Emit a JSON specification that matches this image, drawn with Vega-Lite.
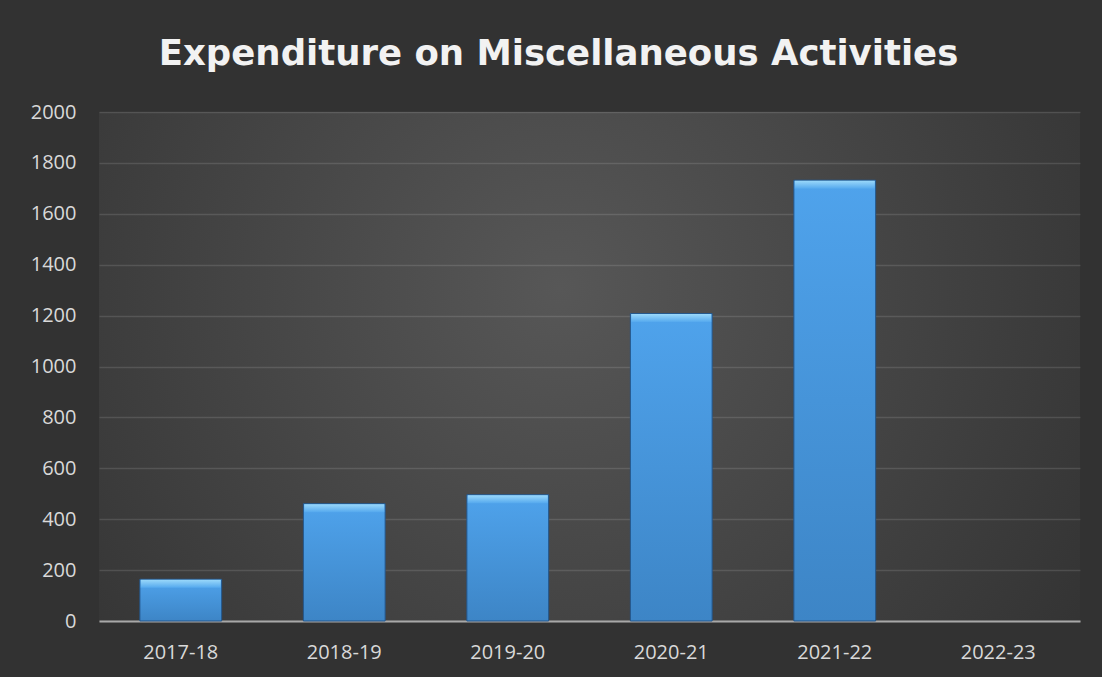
{
  "$schema": "https://vega.github.io/schema/vega-lite/v6.json",
  "width": 981,
  "height": 509,
  "autosize": {"type": "none"},
  "padding": {"left": 99, "top": 112, "right": 22, "bottom": 56},
  "background": "#323232",
  "title": {
    "text": "Expenditure on Miscellaneous Activities",
    "anchor": "middle",
    "frame": "group",
    "dx": -31,
    "offset": 2,
    "baseline": "alphabetic",
    "font": "DejaVu Sans",
    "fontSize": 35.5,
    "fontWeight": "bold",
    "color": "#f2f2f2"
  },
  "config": {
    "view": {
      "stroke": null,
      "fill": {
        "gradient": "radial",
        "x1": 0.47, "y1": 0.42, "r1": 0,
        "x2": 0.47, "y2": 0.42, "r2": 0.66,
        "stops": [
          {"offset": 0, "color": "#575757"},
          {"offset": 1, "color": "#323232"}
        ]
      }
    }
  },
  "data": {
    "values": [
      {"year": "2017-18", "value": 164},
      {"year": "2018-19", "value": 461},
      {"year": "2019-20", "value": 496},
      {"year": "2020-21", "value": 1208},
      {"year": "2021-22", "value": 1732},
      {"year": "2022-23", "value": null}
    ]
  },
  "encoding": {
    "x": {
      "field": "year",
      "type": "nominal",
      "sort": null,
      "scale": {
        "domain": ["2017-18", "2018-19", "2019-20", "2020-21", "2021-22", "2022-23"],
        "paddingInner": 0.5,
        "paddingOuter": 0.25
      },
      "axis": {
        "title": null,
        "labelAngle": 0,
        "ticks": false,
        "domain": true,
        "domainColor": "#a8a8a8",
        "domainWidth": 2,
        "labelPadding": 21,
        "labelFont": "Open Sans",
        "labelFontSize": 20,
        "labelColor": "#d9d9d9"
      }
    }
  },
  "layer": [
    {
      "mark": {
        "type": "bar",
        "fill": {
          "gradient": "linear",
          "x1": 0, "y1": 0, "x2": 0, "y2": 1,
          "stops": [
            {"offset": 0, "color": "#4fa3ec"},
            {"offset": 1, "color": "#3d85c6"}
          ]
        },
        "stroke": "#24578c",
        "strokeWidth": 1
      },
      "encoding": {
        "y": {
          "field": "value",
          "type": "quantitative",
          "scale": {"domain": [0, 2000]},
          "axis": {
            "title": null,
            "values": [0, 200, 400, 600, 800, 1000, 1200, 1400, 1600, 1800, 2000],
            "format": "d",
            "domain": false,
            "ticks": false,
            "labelPadding": 23,
            "labelFont": "Open Sans",
            "labelFontSize": 20,
            "labelColor": "#d9d9d9",
            "gridColor": "#ffffff",
            "gridOpacity": 0.12,
            "gridWidth": 1.5
          }
        }
      }
    },
    {
      "mark": {
        "type": "tick",
        "thickness": 8,
        "size": 80,
        "yOffset": 4.5,
        "fill": {
          "gradient": "linear",
          "x1": 0, "y1": 0, "x2": 0, "y2": 1,
          "stops": [
            {"offset": 0, "color": "#9ad8fa"},
            {"offset": 1, "color": "#55a9ee"}
          ]
        },
        "opacity": 1
      },
      "encoding": {
        "y": {"field": "value", "type": "quantitative"}
      }
    }
  ]
}
